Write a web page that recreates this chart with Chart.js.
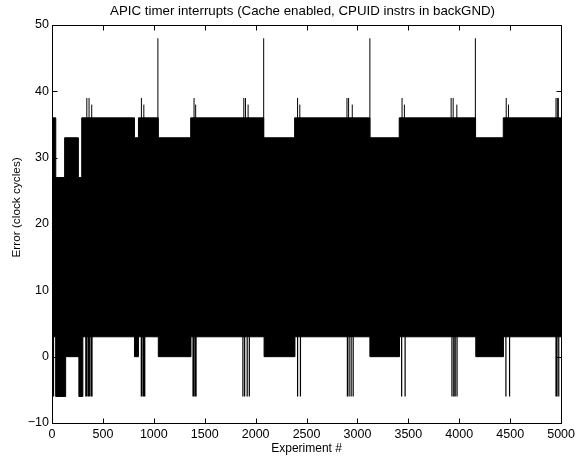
<!DOCTYPE html>
<html>
<head>
<meta charset="utf-8">
<script src="https://cdn.jsdelivr.net/npm/chart.js@4.4.0/dist/chart.umd.min.js"></script>
<style>
html, body { margin: 0; padding: 0; background: #fff; }
#wrap { width: 579px; height: 458px; position: relative; }
</style>
</head>
<body>
<div id="wrap"><canvas id="apic_chart"></canvas></div>
<script>
// Top edge of the black band: level holds from upperX[i] to upperX[i+1]
var upperX = [0, 37, 124, 259, 292, 810, 849, 1044, 1362, 2079, 2383, 3122, 3410, 4160, 4432, 5000];
var upperY = [36, 27, 33, 27, 36, 33, 36, 33, 36, 33, 36, 33, 36, 33, 36, 36];

// Bottom edge of the band
var lowerX = [0, 36, 134, 264, 303, 810, 849, 1044, 1365, 2083, 2386, 3122, 3413, 4162, 4434, 5000];
var lowerY = [3, -6, 0, -6, 3, 0, 3, 0, 3, 0, 3, 0, 3, 0, 3, 3];

// Single samples sticking out above the band
var peakX = [342, 364, 390, 878, 902, 1040, 1395, 1411, 1884, 1900, 1926, 2079, 2412, 2434,
             2897, 2913, 2949, 3122, 3438, 3461, 3920, 3940, 3976, 4158, 4461, 4483, 4950, 4963, 4973];
var peakY = [39, 39, 38, 39, 38, 48, 39, 38, 39, 39, 38, 48, 39, 38,
             39, 39, 38, 48, 39, 38, 39, 39, 38, 48, 39, 38, 39, 39, 39];

// Single samples dropping below the band
var dipX = [15, 332, 342, 357, 367, 383, 393, 877, 884, 899, 911, 1385, 1393, 1407, 1415,
            1875, 1892, 1917, 1938, 2412, 2440, 2901, 2918, 2938, 2958, 3434, 3468,
            3928, 3946, 3960, 3978, 4458, 4494, 4950, 4960, 4977];
var dipY = [-6, -6, -6, -6, -6, -6, -6, -6, -6, -6, -6, -6, -6, -6, -6,
            -6, -6, -6, -6, -6, -6, -6, -6, -6, -6, -6, -6,
            -6, -6, -6, -6, -6, -6, -6, -6, -6];

var xTicks = [0, 500, 1000, 1500, 2000, 2500, 3000, 3500, 4000, 4500, 5000];
var yTicks = [-10, 0, 10, 20, 30, 40, 50];

var FONT = "'Liberation Sans', Arial, Helvetica, sans-serif";
var titleText = 'APIC timer interrupts (Cache enabled, CPUID instrs in backGND)';
var yLabel = 'Error (clock cycles)';

function points(xs, ys) {
    return xs.map(function (x, i) { return {x: x, y: ys[i]}; });
}

// each spike is a vertical segment from inside the band out to its value
function spikes(xs, ys, base) {
    var pts = [];
    for (var i = 0; i < xs.length; i++) {
        pts.push({x: xs[i], y: base}, {x: xs[i], y: ys[i]}, {x: xs[i], y: null});
    }
    return pts;
}

// MATLAB-like frame: box, inward ticks on all four sides, title over the axes
// centre and the y label (a little above the middle, like the original)
var matlabFrame = {
    id: 'matlabFrame',
    afterDatasetsDraw: function (chart) {
        var ctx = chart.ctx, a = chart.chartArea;
        var xs = chart.scales.x, ys = chart.scales.y, len = 5;
        var L = Math.round(a.left) + 0.5, R = Math.round(a.right) + 0.5;
        var T = Math.round(a.top) + 0.5, B = Math.round(a.bottom) + 0.5;
        ctx.save();
        ctx.strokeStyle = '#000';
        ctx.lineWidth = 1;
        ctx.beginPath();
        xs.ticks.forEach(function (t) {
            var p = Math.round(xs.getPixelForValue(t.value)) + 0.5;
            ctx.moveTo(p, B); ctx.lineTo(p, B - len);
            ctx.moveTo(p, T); ctx.lineTo(p, T + len);
        });
        ys.ticks.forEach(function (t) {
            var p = Math.round(ys.getPixelForValue(t.value)) + 0.5;
            ctx.moveTo(L, p); ctx.lineTo(L + len, p);
            ctx.moveTo(R, p); ctx.lineTo(R - len, p);
        });
        ctx.stroke();
        ctx.strokeRect(L, T, R - L, B - T);

        ctx.fillStyle = '#000';
        ctx.textAlign = 'center';
        ctx.textBaseline = 'middle';
        ctx.font = '13.3px ' + FONT;
        ctx.fillText(titleText, (a.left + a.right) / 2 - 4, 11);

        ctx.translate(17, ys.getPixelForValue(22.5));
        ctx.rotate(-Math.PI / 2);
        ctx.font = '11.8px ' + FONT;
        ctx.fillText(yLabel, 0, 0);
        ctx.restore();
    }
};

var ctx = document.getElementById("apic_chart");
var myChart = new Chart(ctx, {
    type: 'line',
    data: {
        datasets: [
            {
                data: points(upperX, upperY),
                stepped: 'before',
                borderColor: '#000',
                backgroundColor: '#000',
                borderWidth: 1,
                pointRadius: 0,
                fill: '+1'
            },
            {
                data: points(lowerX, lowerY),
                stepped: 'before',
                borderColor: '#000',
                borderWidth: 1,
                pointRadius: 0,
                fill: false
            },
            {
                data: spikes(peakX, peakY, 30),
                borderColor: '#000',
                borderWidth: 1,
                pointRadius: 0,
                spanGaps: false,
                fill: false
            },
            {
                data: spikes(dipX, dipY, 10),
                borderColor: '#000',
                borderWidth: 1.2,
                pointRadius: 0,
                spanGaps: false,
                fill: false
            }
        ]
    },
    options: {
        responsive: true,
        maintainAspectRatio: false,
        animation: false,
        layout: {padding: {left: 0, right: 16, top: 25, bottom: 0}},
        plugins: {
            legend: {display: false},
            tooltip: {enabled: false},
            title: {display: false}
        },
        scales: {
            x: {
                type: 'linear',
                min: 0,
                max: 5000,
                afterBuildTicks: function (s) { s.ticks = xTicks.map(function (v) { return {value: v}; }); },
                afterFit: function (s) { s.height = 35; },
                grid: {display: false, drawTicks: false},
                border: {display: false},
                ticks: {
                    color: '#000', font: {family: FONT, size: 12.5}, padding: 4, maxRotation: 0, autoSkip: false,
                    callback: function (v) { return String(v); }
                },
                title: {display: true, text: 'Experiment #', color: '#000',
                        font: {family: FONT, size: 12}, padding: {top: 0, bottom: 2}}
            },
            y: {
                min: -10,
                max: 50,
                afterBuildTicks: function (s) { s.ticks = yTicks.map(function (v) { return {value: v}; }); },
                afterFit: function (s) { s.width = 52; },
                grid: {display: false, drawTicks: false},
                border: {display: false},
                ticks: {
                    color: '#000', font: {family: FONT, size: 12.5}, padding: 3,
                    callback: function (v) { return v < 0 ? '\u2212' + Math.abs(v) : String(v); }
                }
            }
        }
    },
    plugins: [matlabFrame]
});
</script>
</body>
</html>
